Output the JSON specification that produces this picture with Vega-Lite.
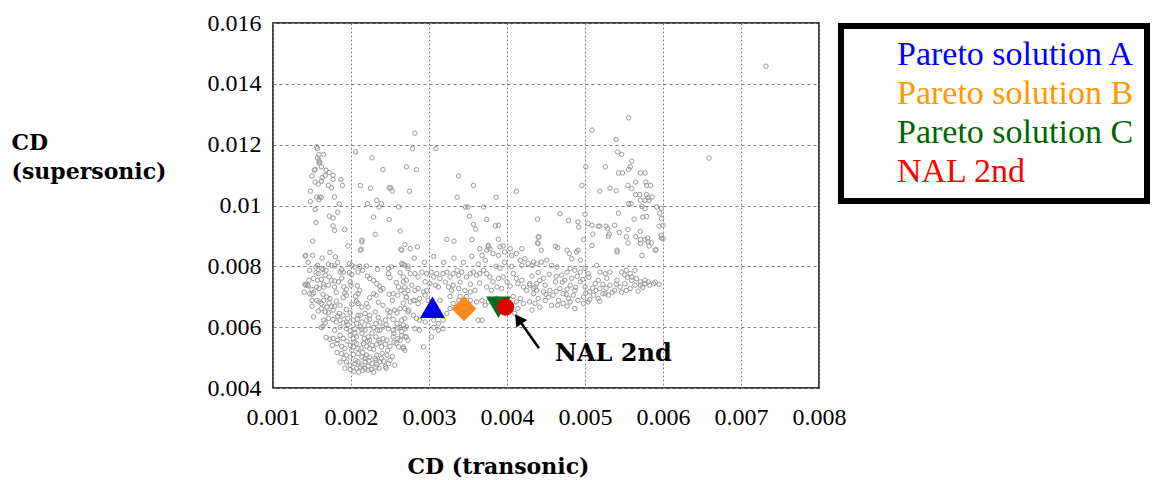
{
"$schema":"https://vega.github.io/schema/vega-lite/v6.json",
"width":546,"height":365,
"autosize":"none",
"padding":{"left":273,"top":23,"right":337,"bottom":92},
"background":"white",
"config":{"view":{"stroke":"black","strokeWidth":1.5},"font":"Liberation Serif"},
"layer":[
{"data":{"values":[
{"x":0.00157,"y":0.01187},{"x":0.00159,"y":0.01167},{"x":0.00165,"y":0.01168},{"x":0.00157,"y":0.01157},{"x":0.00159,"y":0.01149},{"x":0.0016,"y":0.01143},{"x":0.00159,"y":0.0114},{"x":0.00162,"y":0.01127},{"x":0.00154,"y":0.01119},{"x":0.00153,"y":0.01116},{"x":0.00168,"y":0.01116},{"x":0.00172,"y":0.01108},{"x":0.00177,"y":0.01099},{"x":0.00167,"y":0.01099},{"x":0.0015,"y":0.01097},{"x":0.00163,"y":0.01092},{"x":0.00177,"y":0.01086},{"x":0.00187,"y":0.01086},{"x":0.00154,"y":0.01077},{"x":0.00162,"y":0.0108},{"x":0.00158,"y":0.0107},{"x":0.00171,"y":0.01066},{"x":0.00189,"y":0.01066},{"x":0.00175,"y":0.01058},{"x":0.00148,"y":0.01047},{"x":0.00156,"y":0.01028},{"x":0.0016,"y":0.01028},{"x":0.00162,"y":0.01026},{"x":0.00159,"y":0.01019},{"x":0.00179,"y":0.01028},{"x":0.00185,"y":0.01005},{"x":0.00154,"y":0.00987},{"x":0.00183,"y":0.00978},{"x":0.00172,"y":0.00965},{"x":0.00177,"y":0.00959},{"x":0.00155,"y":0.00944},{"x":0.00177,"y":0.00933},{"x":0.00179,"y":0.00918},{"x":0.00192,"y":0.00921},{"x":0.00151,"y":0.00883},{"x":0.00196,"y":0.00867},{"x":0.00206,"y":0.01176},{"x":0.00227,"y":0.01157},{"x":0.00241,"y":0.01118},{"x":0.00271,"y":0.01127},{"x":0.00212,"y":0.01066},{"x":0.00225,"y":0.01057},{"x":0.00249,"y":0.01058},{"x":0.00251,"y":0.01058},{"x":0.00253,"y":0.01047},{"x":0.00275,"y":0.01047},{"x":0.00233,"y":0.01017},{"x":0.00221,"y":0.01006},{"x":0.00239,"y":0.01006},{"x":0.00236,"y":0.00995},{"x":0.00261,"y":0.00995},{"x":0.00229,"y":0.00962},{"x":0.00249,"y":0.00954},{"x":0.00263,"y":0.00916},{"x":0.00231,"y":0.00905},{"x":0.00214,"y":0.00886},{"x":0.00213,"y":0.00856},{"x":0.00264,"y":0.00856},{"x":0.00156,"y":0.01193},{"x":0.00142,"y":0.00836},{"x":0.00148,"y":0.01013},{"x":0.00142,"y":0.00738},{"x":0.00145,"y":0.00736},{"x":0.0015,"y":0.00724},{"x":0.00147,"y":0.0071},
{"x":0.00282,"y":0.01238},{"x":0.00279,"y":0.01187},{"x":0.00309,"y":0.01187},{"x":0.00284,"y":0.01118},{"x":0.00338,"y":0.01097},{"x":0.00357,"y":0.01066},{"x":0.00412,"y":0.01047},{"x":0.00336,"y":0.01027},{"x":0.00386,"y":0.01027},{"x":0.00347,"y":0.00995},{"x":0.0035,"y":0.00995},{"x":0.0037,"y":0.00995},{"x":0.00352,"y":0.00965},{"x":0.00374,"y":0.00954},{"x":0.00357,"y":0.00938},{"x":0.0036,"y":0.00922},{"x":0.00385,"y":0.00933},{"x":0.00389,"y":0.00935},{"x":0.00439,"y":0.00955},{"x":0.00323,"y":0.00889},{"x":0.00332,"y":0.00883},{"x":0.00355,"y":0.00888},{"x":0.00389,"y":0.00889},{"x":0.00285,"y":0.00864},{"x":0.00376,"y":0.00864},{"x":0.00365,"y":0.00858},{"x":0.00395,"y":0.00867},{"x":0.00419,"y":0.00858},{"x":0.0044,"y":0.00896},{"x":0.00439,"y":0.00877},
{"x":0.00556,"y":0.01288},{"x":0.00509,"y":0.01248},{"x":0.0054,"y":0.01217},{"x":0.00542,"y":0.01176},{"x":0.00547,"y":0.01168},{"x":0.0056,"y":0.01146},{"x":0.00558,"y":0.01127},{"x":0.00556,"y":0.01119},{"x":0.00501,"y":0.01127},{"x":0.00526,"y":0.01127},{"x":0.00543,"y":0.01107},{"x":0.00548,"y":0.01107},{"x":0.00571,"y":0.01107},{"x":0.00577,"y":0.01107},{"x":0.00565,"y":0.01077},{"x":0.00578,"y":0.01077},{"x":0.00579,"y":0.01066},{"x":0.00584,"y":0.01066},{"x":0.00496,"y":0.01066},{"x":0.00555,"y":0.01066},{"x":0.0056,"y":0.01056},{"x":0.00532,"y":0.01057},{"x":0.0054,"y":0.01048},{"x":0.00519,"y":0.01047},{"x":0.00565,"y":0.01036},{"x":0.0057,"y":0.01036},{"x":0.00579,"y":0.01036},{"x":0.00586,"y":0.01028},{"x":0.00581,"y":0.01026},{"x":0.00571,"y":0.01017},{"x":0.00577,"y":0.01017},{"x":0.00582,"y":0.01017},{"x":0.00556,"y":0.01006},{"x":0.00559,"y":0.01006},{"x":0.00573,"y":0.00997},{"x":0.00577,"y":0.0099},{"x":0.00592,"y":0.00995},{"x":0.00543,"y":0.00975},{"x":0.00596,"y":0.00975},{"x":0.00574,"y":0.00962},{"x":0.00579,"y":0.00964},{"x":0.00563,"y":0.00955},{"x":0.00468,"y":0.00973},{"x":0.005,"y":0.00971},{"x":0.00479,"y":0.00951},{"x":0.00491,"y":0.00946},{"x":0.00492,"y":0.00929},{"x":0.00504,"y":0.00941},{"x":0.00509,"y":0.00935},{"x":0.00517,"y":0.00932},{"x":0.00519,"y":0.00932},{"x":0.00527,"y":0.00932},{"x":0.00529,"y":0.00924},{"x":0.00538,"y":0.00935},{"x":0.00555,"y":0.00921},{"x":0.00571,"y":0.00915},{"x":0.00595,"y":0.00932},{"x":0.00531,"y":0.00906},{"x":0.0053,"y":0.00899},{"x":0.0051,"y":0.00906},{"x":0.00544,"y":0.00911},{"x":0.00553,"y":0.00897},{"x":0.00555,"y":0.00877},{"x":0.00565,"y":0.00897},{"x":0.00571,"y":0.00888},{"x":0.00577,"y":0.00888},{"x":0.0058,"y":0.00893},{"x":0.00582,"y":0.00867},{"x":0.00598,"y":0.00893},{"x":0.00441,"y":0.00897},{"x":0.0044,"y":0.00875},{"x":0.00498,"y":0.00888},{"x":0.00462,"y":0.00866},{"x":0.00465,"y":0.00862},{"x":0.00477,"y":0.00853},{"x":0.00491,"y":0.00853},{"x":0.00541,"y":0.00853},{"x":0.00585,"y":0.00877},{"x":0.00591,"y":0.00855},
{"x":0.00659,"y":0.01156},{"x":0.00732,"y":0.01458},{"x":0.00598,"y":0.0099},{"x":0.00598,"y":0.00957},{"x":0.006,"y":0.00935},{"x":0.00598,"y":0.00902},{"x":0.006,"y":0.00891},
{"x":0.00214,"y":0.0088},{"x":0.00212,"y":0.00853},{"x":0.00141,"y":0.00834},{"x":0.0018,"y":0.00831},{"x":0.00171,"y":0.00807},{"x":0.00175,"y":0.00803},{"x":0.00179,"y":0.00801},{"x":0.00157,"y":0.00803},{"x":0.00155,"y":0.00798},{"x":0.00162,"y":0.00793},{"x":0.00164,"y":0.0079},{"x":0.00188,"y":0.00789},{"x":0.0019,"y":0.00781},{"x":0.00186,"y":0.00781},{"x":0.00198,"y":0.00809},{"x":0.00201,"y":0.00803},{"x":0.00205,"y":0.00798},{"x":0.00211,"y":0.008},{"x":0.00215,"y":0.00787},{"x":0.00209,"y":0.00781},{"x":0.0022,"y":0.00801},{"x":0.00234,"y":0.0079},{"x":0.00248,"y":0.00793},{"x":0.00252,"y":0.00798},{"x":0.00267,"y":0.00807},{"x":0.00273,"y":0.00801},{"x":0.00155,"y":0.00779},{"x":0.00158,"y":0.00776},{"x":0.00167,"y":0.00771},{"x":0.00172,"y":0.00765},{"x":0.00152,"y":0.0076},{"x":0.00157,"y":0.00754},{"x":0.00162,"y":0.00757},{"x":0.00175,"y":0.00754},{"x":0.00179,"y":0.00752},{"x":0.00184,"y":0.00749},{"x":0.00198,"y":0.00779},{"x":0.00201,"y":0.00773},{"x":0.00221,"y":0.00768},{"x":0.00224,"y":0.0076},{"x":0.00229,"y":0.00754},{"x":0.00248,"y":0.00776},{"x":0.0025,"y":0.00763},{"x":0.00263,"y":0.00779},{"x":0.00267,"y":0.00765},{"x":0.00271,"y":0.00754},{"x":0.00141,"y":0.00741},{"x":0.00144,"y":0.0074},{"x":0.00156,"y":0.00732},{"x":0.00159,"y":0.00727},{"x":0.00165,"y":0.00732},{"x":0.00171,"y":0.00738},{"x":0.00179,"y":0.00732},{"x":0.00191,"y":0.00732},{"x":0.00194,"y":0.00724},{"x":0.00199,"y":0.00749},{"x":0.002,"y":0.00738},{"x":0.00208,"y":0.00736},{"x":0.00211,"y":0.00721},{"x":0.00233,"y":0.00743},{"x":0.00237,"y":0.00735},{"x":0.00241,"y":0.00727},{"x":0.00238,"y":0.00721},{"x":0.00258,"y":0.00747},{"x":0.00261,"y":0.00732},{"x":0.00264,"y":0.00721},{"x":0.0015,"y":0.00708},{"x":0.00152,"y":0.00713},{"x":0.00164,"y":0.00708},{"x":0.00169,"y":0.00699},{"x":0.00173,"y":0.00694},{"x":0.00192,"y":0.00712},{"x":0.0019,"y":0.00697},{"x":0.00194,"y":0.00705},{"x":0.00209,"y":0.0071},{"x":0.00206,"y":0.00702},{"x":0.00207,"y":0.00685},{"x":0.00224,"y":0.00697},{"x":0.00229,"y":0.0071},{"x":0.00232,"y":0.00705},{"x":0.00249,"y":0.00708},{"x":0.00254,"y":0.0071},{"x":0.0026,"y":0.00705},{"x":0.00269,"y":0.00712},{"x":0.00271,"y":0.00697},{"x":0.00156,"y":0.00688},{"x":0.0015,"y":0.00688},{"x":0.00162,"y":0.00678},{"x":0.00159,"y":0.00683},{"x":0.00172,"y":0.00679},{"x":0.00175,"y":0.00669},{"x":0.00169,"y":0.00666},{"x":0.00181,"y":0.00686},{"x":0.00186,"y":0.00672},{"x":0.00209,"y":0.00678},{"x":0.0022,"y":0.00678},{"x":0.00222,"y":0.00666},{"x":0.00241,"y":0.00672},{"x":0.00247,"y":0.00656},{"x":0.0025,"y":0.0065},{"x":0.00256,"y":0.00656},{"x":0.00259,"y":0.00647},{"x":0.00263,"y":0.00661},{"x":0.00158,"y":0.00653},{"x":0.00162,"y":0.00661},{"x":0.00167,"y":0.0065},{"x":0.00171,"y":0.00647},{"x":0.00177,"y":0.00656},{"x":0.00185,"y":0.00645},{"x":0.0019,"y":0.00639},{"x":0.00199,"y":0.00647},{"x":0.00209,"y":0.00639},{"x":0.00212,"y":0.00639},{"x":0.00218,"y":0.00645},{"x":0.00224,"y":0.00639},{"x":0.00231,"y":0.0065},{"x":0.00152,"y":0.00634},{"x":0.00165,"y":0.00623},{"x":0.00167,"y":0.00614},{"x":0.00177,"y":0.00625},{"x":0.00181,"y":0.00617},{"x":0.00186,"y":0.00623},{"x":0.0019,"y":0.00614},{"x":0.00194,"y":0.00617},{"x":0.00203,"y":0.00623},{"x":0.00207,"y":0.00612},{"x":0.00214,"y":0.00617},{"x":0.0022,"y":0.00623},{"x":0.00232,"y":0.00612},{"x":0.00237,"y":0.00617},{"x":0.00244,"y":0.00623},{"x":0.00254,"y":0.00625},{"x":0.00259,"y":0.00612},{"x":0.00265,"y":0.00623},{"x":0.00162,"y":0.00599},{"x":0.00164,"y":0.00603},{"x":0.00194,"y":0.00595},{"x":0.00199,"y":0.00588},{"x":0.00205,"y":0.00595},{"x":0.00212,"y":0.00601},{"x":0.00218,"y":0.0059},{"x":0.00229,"y":0.00599},{"x":0.00234,"y":0.0059},{"x":0.00241,"y":0.00601},{"x":0.00248,"y":0.00595},{"x":0.00254,"y":0.0059},{"x":0.00263,"y":0.00599},{"x":0.00269,"y":0.00595},{"x":0.00168,"y":0.00566},{"x":0.00173,"y":0.0056},{"x":0.00177,"y":0.00563},{"x":0.00186,"y":0.00573},{"x":0.0019,"y":0.00563},{"x":0.00199,"y":0.00573},{"x":0.00203,"y":0.00563},{"x":0.00207,"y":0.00568},{"x":0.00214,"y":0.00579},{"x":0.00217,"y":0.00563},{"x":0.00222,"y":0.00568},{"x":0.00224,"y":0.00557},{"x":0.00232,"y":0.00568},{"x":0.00236,"y":0.00557},{"x":0.00241,"y":0.00562},{"x":0.00246,"y":0.00557},{"x":0.00254,"y":0.00568},{"x":0.0026,"y":0.00562},{"x":0.00265,"y":0.00573},{"x":0.00271,"y":0.00568},{"x":0.00182,"y":0.00546},{"x":0.00188,"y":0.00537},{"x":0.00192,"y":0.0053},{"x":0.00199,"y":0.0054},{"x":0.00203,"y":0.00535},{"x":0.00207,"y":0.00546},{"x":0.00209,"y":0.0053},{"x":0.00216,"y":0.00546},{"x":0.0022,"y":0.00537},{"x":0.00224,"y":0.0053},{"x":0.00227,"y":0.0054},{"x":0.00233,"y":0.00544},{"x":0.00239,"y":0.00535},{"x":0.00244,"y":0.00544},{"x":0.0025,"y":0.00537},{"x":0.00258,"y":0.00546},{"x":0.00261,"y":0.00535},{"x":0.00267,"y":0.0053},{"x":0.00188,"y":0.00513},{"x":0.00194,"y":0.00508},{"x":0.00199,"y":0.00502},{"x":0.00203,"y":0.0051},{"x":0.00209,"y":0.00513},{"x":0.00214,"y":0.00502},{"x":0.00218,"y":0.00497},{"x":0.0022,"y":0.00508},{"x":0.00224,"y":0.00502},{"x":0.00233,"y":0.00508},{"x":0.00239,"y":0.00497},{"x":0.00246,"y":0.00508},{"x":0.0025,"y":0.00491},{"x":0.00194,"y":0.00486},{"x":0.00199,"y":0.00475},{"x":0.00205,"y":0.0048},{"x":0.00209,"y":0.00486},{"x":0.00214,"y":0.00475},{"x":0.00218,"y":0.00486},{"x":0.00222,"y":0.00471},{"x":0.00227,"y":0.0048},{"x":0.00233,"y":0.00478},{"x":0.00237,"y":0.00486},{"x":0.00244,"y":0.00471},{"x":0.00248,"y":0.0048},{"x":0.00218,"y":0.00464},{"x":0.00222,"y":0.00459},{"x":0.00207,"y":0.00464},{"x":0.00212,"y":0.00469},{"x":0.00232,"y":0.00469},{"x":0.00232,"y":0.00491},
{"x":0.00265,"y":0.00853},{"x":0.00269,"y":0.00872},{"x":0.00276,"y":0.00858},{"x":0.00265,"y":0.00809},{"x":0.00269,"y":0.00803},{"x":0.00273,"y":0.00793},{"x":0.00276,"y":0.00776},{"x":0.00282,"y":0.00776},{"x":0.00286,"y":0.00765},{"x":0.00291,"y":0.00781},{"x":0.00297,"y":0.00776},{"x":0.00303,"y":0.00781},{"x":0.00306,"y":0.00765},{"x":0.0031,"y":0.00776},{"x":0.00314,"y":0.0076},{"x":0.00301,"y":0.00743},{"x":0.00308,"y":0.00738},{"x":0.00312,"y":0.00732},{"x":0.00267,"y":0.00749},{"x":0.00269,"y":0.00732},{"x":0.00273,"y":0.00721},{"x":0.00278,"y":0.00738},{"x":0.00282,"y":0.00721},{"x":0.00286,"y":0.00727},{"x":0.00293,"y":0.00716},{"x":0.00295,"y":0.00749},{"x":0.00297,"y":0.00721},{"x":0.00318,"y":0.00776},{"x":0.00323,"y":0.00781},{"x":0.00327,"y":0.00765},{"x":0.00331,"y":0.00776},{"x":0.00336,"y":0.00787},{"x":0.00338,"y":0.00771},{"x":0.00342,"y":0.00781},{"x":0.00325,"y":0.00732},{"x":0.00329,"y":0.00721},{"x":0.00331,"y":0.00738},{"x":0.00338,"y":0.00727},{"x":0.00348,"y":0.00765},{"x":0.00353,"y":0.00776},{"x":0.00357,"y":0.00781},{"x":0.00361,"y":0.00771},{"x":0.00346,"y":0.00721},{"x":0.00353,"y":0.00716},{"x":0.00359,"y":0.00721},{"x":0.00365,"y":0.00776},{"x":0.0037,"y":0.00787},{"x":0.00374,"y":0.00776},{"x":0.00376,"y":0.00869},{"x":0.00368,"y":0.00836},{"x":0.00372,"y":0.0082},{"x":0.00374,"y":0.00853},{"x":0.00378,"y":0.00858},{"x":0.00382,"y":0.00842},{"x":0.00389,"y":0.00836},{"x":0.00391,"y":0.00864},{"x":0.00397,"y":0.00847},{"x":0.00404,"y":0.00858},{"x":0.00406,"y":0.00836},{"x":0.00412,"y":0.00842},{"x":0.00417,"y":0.0082},{"x":0.00419,"y":0.00803},{"x":0.00423,"y":0.00825},{"x":0.00427,"y":0.00809},{"x":0.00434,"y":0.00814},{"x":0.00378,"y":0.00765},{"x":0.00382,"y":0.00749},{"x":0.00389,"y":0.0076},{"x":0.00395,"y":0.00765},{"x":0.004,"y":0.00749},{"x":0.00374,"y":0.00732},{"x":0.0038,"y":0.00721},{"x":0.00387,"y":0.00732},{"x":0.00393,"y":0.00727},{"x":0.00408,"y":0.00776},{"x":0.00412,"y":0.0076},{"x":0.00414,"y":0.00743},{"x":0.00419,"y":0.00754},{"x":0.00421,"y":0.00732},{"x":0.00425,"y":0.00721},{"x":0.00429,"y":0.00738},{"x":0.00434,"y":0.00727},{"x":0.00438,"y":0.00743},{"x":0.00408,"y":0.00701},{"x":0.00412,"y":0.00683},{"x":0.00417,"y":0.00694},{"x":0.00421,"y":0.00678},{"x":0.00414,"y":0.00661},{"x":0.0041,"y":0.00645},{"x":0.00271,"y":0.00699},{"x":0.00276,"y":0.00683},{"x":0.0028,"y":0.00688},{"x":0.00286,"y":0.00678},{"x":0.00288,"y":0.00694},{"x":0.00295,"y":0.00705},{"x":0.00299,"y":0.00688},{"x":0.00269,"y":0.00661},{"x":0.00273,"y":0.0065},{"x":0.0028,"y":0.00639},{"x":0.00284,"y":0.00629},{"x":0.00288,"y":0.00623},{"x":0.00295,"y":0.00617},{"x":0.00306,"y":0.00623},{"x":0.00312,"y":0.00612},{"x":0.00318,"y":0.00623},{"x":0.00323,"y":0.00645},{"x":0.00327,"y":0.00661},{"x":0.00331,"y":0.00678},{"x":0.00338,"y":0.00688},{"x":0.00348,"y":0.00701},{"x":0.00353,"y":0.00688},{"x":0.00361,"y":0.00683},{"x":0.00368,"y":0.00688},{"x":0.00372,"y":0.00672},{"x":0.00376,"y":0.00683},{"x":0.00363,"y":0.00623},{"x":0.00368,"y":0.00623},{"x":0.00267,"y":0.00607},{"x":0.00271,"y":0.00601},{"x":0.00265,"y":0.00585},{"x":0.00269,"y":0.00568},{"x":0.00273,"y":0.00557},{"x":0.00267,"y":0.00535},{"x":0.00269,"y":0.00524},{"x":0.00293,"y":0.00535},{"x":0.00282,"y":0.00595},{"x":0.00288,"y":0.0059},{"x":0.00306,"y":0.00599},{"x":0.00312,"y":0.0059},{"x":0.00318,"y":0.00595},{"x":0.00303,"y":0.00568},
{"x":0.0048,"y":0.00842},{"x":0.00489,"y":0.00847},{"x":0.00444,"y":0.00853},{"x":0.00509,"y":0.00869},{"x":0.00541,"y":0.00847},{"x":0.00571,"y":0.00875},{"x":0.00581,"y":0.0088},{"x":0.0059,"y":0.00853},{"x":0.00573,"y":0.00836},{"x":0.00483,"y":0.00825},{"x":0.00494,"y":0.0082},{"x":0.00432,"y":0.00803},{"x":0.00438,"y":0.00809},{"x":0.00444,"y":0.00814},{"x":0.00451,"y":0.0082},{"x":0.00457,"y":0.00803},{"x":0.00464,"y":0.00798},{"x":0.0047,"y":0.00771},{"x":0.00477,"y":0.00781},{"x":0.00481,"y":0.00793},{"x":0.00487,"y":0.00787},{"x":0.00494,"y":0.00781},{"x":0.005,"y":0.00793},{"x":0.00504,"y":0.00776},{"x":0.00515,"y":0.00803},{"x":0.00519,"y":0.00781},{"x":0.00526,"y":0.00776},{"x":0.00532,"y":0.00781},{"x":0.00547,"y":0.00781},{"x":0.00553,"y":0.00787},{"x":0.00558,"y":0.00776},{"x":0.00564,"y":0.00787},{"x":0.00551,"y":0.00771},{"x":0.0056,"y":0.00765},{"x":0.00566,"y":0.0076},{"x":0.00571,"y":0.00749},{"x":0.00577,"y":0.00743},{"x":0.00588,"y":0.00743},
{"x":0.00429,"y":0.00743},{"x":0.00436,"y":0.00732},{"x":0.00442,"y":0.00754},{"x":0.00449,"y":0.00738},{"x":0.00455,"y":0.00721},{"x":0.00462,"y":0.00749},{"x":0.00468,"y":0.00727},{"x":0.00474,"y":0.00754},{"x":0.00481,"y":0.00738},{"x":0.00487,"y":0.00721},{"x":0.00494,"y":0.00749},{"x":0.005,"y":0.00732},{"x":0.00506,"y":0.00716},{"x":0.00513,"y":0.00743},{"x":0.00519,"y":0.00727},{"x":0.00526,"y":0.0071},{"x":0.00532,"y":0.00738},{"x":0.00538,"y":0.00721},{"x":0.00545,"y":0.00732},{"x":0.00551,"y":0.00743},{"x":0.00558,"y":0.00727},{"x":0.00564,"y":0.00738},{"x":0.00434,"y":0.0071},{"x":0.0044,"y":0.00694},{"x":0.00447,"y":0.00716},{"x":0.00453,"y":0.00699},{"x":0.00459,"y":0.00705},{"x":0.00466,"y":0.00688},{"x":0.00472,"y":0.0071},{"x":0.00479,"y":0.00694},{"x":0.00485,"y":0.00705},{"x":0.00491,"y":0.00688},{"x":0.00498,"y":0.00699},{"x":0.00504,"y":0.00683},{"x":0.00511,"y":0.00705},{"x":0.00517,"y":0.00694},{"x":0.00523,"y":0.0071},{"x":0.0053,"y":0.00705},{"x":0.00436,"y":0.00678},{"x":0.00442,"y":0.00666},{"x":0.00457,"y":0.00672},{"x":0.00472,"y":0.00678},{"x":0.00481,"y":0.00683},{"x":0.00487,"y":0.00661},{"x":0.00498,"y":0.00678},{"x":0.00432,"y":0.00656},{"x":0.00429,"y":0.00683},{"x":0.00577,"y":0.00754},{"x":0.00571,"y":0.00738},{"x":0.00581,"y":0.00749},
{"x":0.00432,"y":0.00768},{"x":0.0044,"y":0.0078},{"x":0.00447,"y":0.00761},{"x":0.00454,"y":0.00774},{"x":0.00463,"y":0.00767},{"x":0.00471,"y":0.00748},{"x":0.00477,"y":0.00725},{"x":0.00483,"y":0.00761},{"x":0.0049,"y":0.00767},{"x":0.00497,"y":0.00757},{"x":0.00505,"y":0.00764},{"x":0.0051,"y":0.00728},{"x":0.00517,"y":0.00754},{"x":0.00523,"y":0.00741},{"x":0.00528,"y":0.00761},{"x":0.00535,"y":0.00715},{"x":0.00541,"y":0.00754},{"x":0.00547,"y":0.00715},{"x":0.00554,"y":0.00764},{"x":0.0056,"y":0.00754},{"x":0.00568,"y":0.00718},{"x":0.00574,"y":0.00731},{"x":0.00583,"y":0.00738},{"x":0.0059,"y":0.00748},{"x":0.00595,"y":0.00741},{"x":0.00438,"y":0.00721},{"x":0.0045,"y":0.00708},{"x":0.00463,"y":0.00718},{"x":0.00476,"y":0.00708},{"x":0.00488,"y":0.00731},{"x":0.00501,"y":0.00712},{"x":0.00514,"y":0.00721},{"x":0.00527,"y":0.00728},{"x":0.0054,"y":0.00741},{"x":0.00553,"y":0.00721},{"x":0.00449,"y":0.00688},{"x":0.00465,"y":0.00672},{"x":0.00477,"y":0.00669},{"x":0.00506,"y":0.00691},{"x":0.00519,"y":0.00685},
{"x":0.00179,"y":0.0059},{"x":0.00186,"y":0.006},{"x":0.00196,"y":0.00609},{"x":0.00205,"y":0.0058},{"x":0.00214,"y":0.00593},{"x":0.00222,"y":0.00606},{"x":0.00227,"y":0.0058},{"x":0.00237,"y":0.0059},{"x":0.00245,"y":0.00609},{"x":0.00255,"y":0.0058},{"x":0.0026,"y":0.00597},{"x":0.00176,"y":0.0054},{"x":0.00183,"y":0.00557},{"x":0.00195,"y":0.00554},{"x":0.00204,"y":0.0055},{"x":0.00213,"y":0.00531},{"x":0.00221,"y":0.00554},{"x":0.00229,"y":0.00527},{"x":0.00237,"y":0.0055},{"x":0.00247,"y":0.00524},{"x":0.00255,"y":0.0055},{"x":0.00263,"y":0.00557},{"x":0.00182,"y":0.00517},{"x":0.00191,"y":0.00497},{"x":0.00201,"y":0.00524},{"x":0.00206,"y":0.00491},{"x":0.00215,"y":0.00517},{"x":0.00223,"y":0.00488},{"x":0.00231,"y":0.00497},{"x":0.0024,"y":0.00514},{"x":0.00242,"y":0.00488},{"x":0.00253,"y":0.00504},{"x":0.00199,"y":0.00461},{"x":0.00204,"y":0.00455},{"x":0.0021,"y":0.00452},{"x":0.00215,"y":0.00458},{"x":0.00226,"y":0.00461},{"x":0.00229,"y":0.00452},{"x":0.00236,"y":0.00465},{"x":0.00192,"y":0.00465},{"x":0.00186,"y":0.00485},{"x":0.00245,"y":0.00465},{"x":0.00256,"y":0.00475},{"x":0.00171,"y":0.00629},{"x":0.00183,"y":0.00636},{"x":0.00196,"y":0.00629},{"x":0.00208,"y":0.00626},{"x":0.00224,"y":0.00626},{"x":0.00235,"y":0.00632},{"x":0.00249,"y":0.00636},{"x":0.00269,"y":0.00629},{"x":0.0015,"y":0.00669},{"x":0.00165,"y":0.00688},{"x":0.00179,"y":0.00669},{"x":0.00194,"y":0.00658},{"x":0.00201,"y":0.00675},{"x":0.00214,"y":0.00666},{"x":0.00235,"y":0.00682},{"x":0.00253,"y":0.00688},{"x":0.00267,"y":0.00679},{"x":0.00274,"y":0.00656},
{"x":0.00281,"y":0.00827},{"x":0.00294,"y":0.00813},{"x":0.00306,"y":0.00833},{"x":0.00319,"y":0.00813},{"x":0.00332,"y":0.00827},{"x":0.00344,"y":0.00813},{"x":0.00355,"y":0.00833},{"x":0.00363,"y":0.00807},{"x":0.00386,"y":0.008},{"x":0.00397,"y":0.00813},{"x":0.00406,"y":0.008},{"x":0.00321,"y":0.00748},{"x":0.0034,"y":0.00748},{"x":0.00353,"y":0.00741},{"x":0.00365,"y":0.00745},{"x":0.00391,"y":0.00794},{"x":0.00404,"y":0.00735},{"x":0.00282,"y":0.00688},{"x":0.00314,"y":0.00688},{"x":0.00327,"y":0.00701},{"x":0.0034,"y":0.00701},{"x":0.00387,"y":0.00695},{"x":0.00397,"y":0.00688},
{"x":0.00145,"y":0.00813},{"x":0.00151,"y":0.00836},{"x":0.00163,"y":0.00827},{"x":0.00173,"y":0.00846},{"x":0.00183,"y":0.00813},{"x":0.00147,"y":0.00787},{"x":0.00168,"y":0.00787},{"x":0.0014,"y":0.00715},{"x":0.00146,"y":0.00754},{"x":0.00165,"y":0.00741},{"x":0.00181,"y":0.00715},{"x":0.00188,"y":0.00761}
]},
"mark":{"type":"point","shape":"circle","filled":false,"stroke":"#999999","strokeWidth":1,"size":20,"opacity":1},
"encoding":{
"x":{"field":"x","type":"quantitative","scale":{"domain":[0.001,0.008],"nice":false,"zero":false},
"axis":{"values":[0.001,0.002,0.003,0.004,0.005,0.006,0.007,0.008],"format":"~g","labelOverlap":false,"labelFlush":false,"labelBound":false,"domain":false,"ticks":false,"tickSize":0,"labelFont":"Liberation Serif","labelFontSize":24,"labelColor":"black","labelPadding":17,"grid":true,"gridColor":"#808080","gridDash":[2,2],"gridWidth":1,
"title":"CD (transonic)","titleFont":"DejaVu Serif","titleFontWeight":"bold","titleFontSize":22,"titleColor":"black","titleX":225,"titleY":85,"titleAlign":"center","titleBaseline":"alphabetic"}},
"y":{"field":"y","type":"quantitative","scale":{"domain":[0.004,0.016],"nice":false,"zero":false},
"axis":{"values":[0.004,0.006,0.008,0.01,0.012,0.014,0.016],"format":"~g","labelOverlap":false,"labelFlush":false,"labelBound":false,"domain":false,"ticks":false,"tickSize":0,"labelFont":"Liberation Serif","labelFontSize":24,"labelColor":"black","labelPadding":12,"grid":true,"gridColor":"#808080","gridDash":[3,3],"gridWidth":1,
"title":["CD","(supersonic)"],"titleFont":"DejaVu Serif","titleFontWeight":"bold","titleFontSize":22,"titleColor":"black","titleAngle":0,"titleAlign":"left","titleBaseline":"alphabetic","titleX":-262,"titleY":126,"titleLineHeight":29}}
}},
{"data":{"values":[{"series":"Pareto solution A","x":0.003045,"y":0.006654}]},
"mark":{"type":"point","shape":"triangle-up","filled":true,"opacity":1,"size":625,"strokeWidth":0},
"encoding":{"x":{"field":"x","type":"quantitative"},"y":{"field":"y","type":"quantitative"},
"color":{"field":"series","type":"nominal","scale":{"domain":["Pareto solution A","Pareto solution B","Pareto solution C","NAL 2nd"],"range":["#0000e6","#ff8c1a","#0b6b1e","#e00000"]},
"legend":{"orient":"none","legendX":568,"legendY":3,"title":null,"padding":12,"symbolOpacity":0,"symbolSize":100,"labelOffset":10,"labelFont":"Liberation Serif","labelFontSize":34,"labelLimit":500,"rowPadding":5,
"encode":{"labels":{"update":{
"fill":{"signal":"datum.value == 'Pareto solution A' ? '#0000ff' : datum.value == 'Pareto solution B' ? '#ff9900' : datum.value == 'Pareto solution C' ? '#006600' : '#ff0000'"}}},
"legend":{"update":{"stroke":{"value":"black"},"strokeWidth":{"value":6},"fill":{"value":"white"}}}}}}}},
{"data":{"values":[{"series":"Pareto solution B","x":0.003449,"y":0.006604}]},
"mark":{"type":"point","shape":"diamond","filled":true,"opacity":1,"size":625,"strokeWidth":0},
"encoding":{"x":{"field":"x","type":"quantitative"},"y":{"field":"y","type":"quantitative"},"color":{"field":"series","type":"nominal"}}},
{"data":{"values":[{"series":"Pareto solution C","x":0.003891,"y":0.006654}]},
"mark":{"type":"point","shape":"triangle-down","filled":true,"opacity":1,"size":625,"strokeWidth":0},
"encoding":{"x":{"field":"x","type":"quantitative"},"y":{"field":"y","type":"quantitative"},"color":{"field":"series","type":"nominal"}}},
{"data":{"values":[{"series":"NAL 2nd","x":0.003983,"y":0.006663}]},
"mark":{"type":"point","shape":"circle","filled":true,"opacity":1,"size":300,"strokeWidth":0},
"encoding":{"x":{"field":"x","type":"quantitative"},"y":{"field":"y","type":"quantitative"},"color":{"field":"series","type":"nominal"}}},
{"data":{"values":[{"x":0.00441,"y":0.005306,"x2":0.004146,"y2":0.006269}]},
"mark":{"type":"rule","color":"black","strokeWidth":2.5},
"encoding":{"x":{"field":"x","type":"quantitative"},"y":{"field":"y","type":"quantitative"},"x2":{"field":"x2"},"y2":{"field":"y2"}}},
{"data":{"values":[{"x":0.004146,"y":0.006269}]},
"mark":{"type":"point","shape":"triangle-up","filled":true,"color":"black","opacity":1,"size":180,"angle":325,"strokeWidth":0},
"encoding":{"x":{"field":"x","type":"quantitative"},"y":{"field":"y","type":"quantitative"}}},
{"data":{"values":[{"x":0.004615,"y":0.00488,"label":"NAL 2nd"}]},
"mark":{"type":"text","align":"left","baseline":"alphabetic","font":"DejaVu Serif","fontWeight":"bold","fontSize":24,"color":"black"},
"encoding":{"x":{"field":"x","type":"quantitative"},"y":{"field":"y","type":"quantitative"},"text":{"field":"label"}}}
]
}
